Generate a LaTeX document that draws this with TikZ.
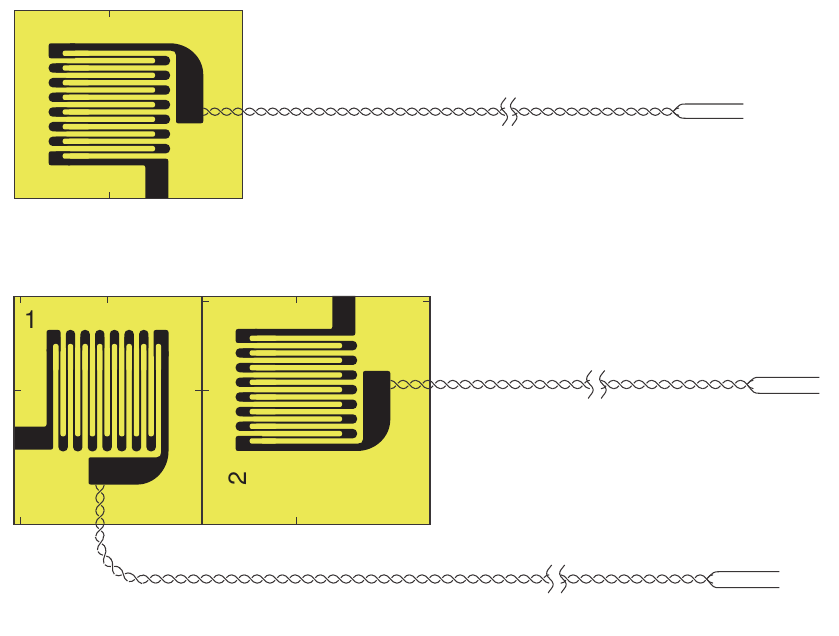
\documentclass[tikz,border=0pt]{standalone}
\usepackage{fontspec}
\setmainfont{TeX Gyre Heros}
\definecolor{foilyellow}{HTML}{EBE854}
\definecolor{foilblack}{HTML}{231F20}
\tikzset{
	carrier/.style={draw=foilblack!90, line width=1.2pt},
	foil/.style={fill=foilblack},
	slot/.style={fill=foilyellow, rounded corners=2pt},
	tick/.style={draw=foilblack!90, line width=1pt},
	strand/.style={draw=foilblack!90, line width=1.05pt},
	numeral/.style={font=\fontsize{25}{25}\selectfont, text=foilblack, inner sep=0pt},
	pics/twistcell/.style={code={
		\draw[strand] (-6.35,-4.2) .. controls (-1,-4.2) and (1,4.2) .. (6.35,4.2);
		\draw[strand] (-6.35,4.2) .. controls (-3.8,4.2) and (-2.5,2.9) .. (-1.1,1.25);
		\draw[strand] (1.1,-1.25) .. controls (2.5,-2.9) and (3.8,-4.2) .. (6.35,-4.2);
	}}
}
% Foil grid, long fingers horizontal
\newcommand{\foilgrid}{
	% Hairpins at the right end
	\foreach \y in {60.67,75.33,90,104.67,119.33,134,148.67} {
		\fill[foil, rounded corners=4pt] (55,\y-4.67) rectangle (170,\y+4.67);
		\fill[slot] (40,\y-2.67) rectangle (155,\y+2.67);
	}
	% Hairpins at the left end
	\foreach \y in {68,82.67,97.33,112,126.67,141.33} {
		\fill[foil, rounded corners=4pt] (48.7,\y-4.67) rectangle (70,\y+4.67);
		\fill[slot] (62.7,\y-2.67) rectangle (90,\y+2.67);
	}
	% Upper tab and curved lead
	\fill[foil] (75,43.3) -- (51,43.3) .. controls (49.5,43.3) and (48.7,44.1) .. (48.7,45.6) -- (48.7,56) .. controls (48.7,57.5) and (49.5,58.3) .. (51,58.3) -- (75,58.3) -- cycle;
	\fill[foil] (70,43.3) -- (170,43.3) .. controls (188,43.3) and (203.3,57) .. (203.3,75) -- (203.3,121) .. controls (203.3,122.5) and (202.5,123.3) .. (201,123.3) -- (178,123.3) .. controls (176.7,123.3) and (176,122.5) .. (176,121) -- (176,55) .. controls (176,52) and (174,50.7) .. (171,50.7) -- (70,50.7) -- cycle;
	\fill[slot] (62.7,50.7) rectangle (90,56);
	% Lower tab and straight lead
	\fill[foil] (70,151.3) -- (51,151.3) .. controls (49.5,151.3) and (48.7,152.1) .. (48.7,153.6) -- (48.7,163) .. controls (48.7,164.5) and (49.5,165.3) .. (51,165.3) -- (70,165.3) -- cycle;
	\fill[foil] (68,158.7) -- (166,158.7) .. controls (167.5,158.7) and (168.3,159.5) .. (168.3,161) -- (168.3,198.5) -- (145.3,198.5) -- (145.3,167.3) .. controls (145.3,166) and (144.6,165.3) .. (143.3,165.3) -- (68,165.3) -- cycle;
	\fill[slot] (62.7,153.3) rectangle (90,158.7);
}
\begin{document}
\begin{tikzpicture}[x=1pt,y=-1pt]
	\useasboundingbox (0,0) rectangle (839,636);
	% Carriers
	\fill[foilyellow] (14.5,10.2) rectangle (242.8,198.7);
	\fill[foilyellow] (14,296.5) rectangle (430,524.3);
	% Grids
	\foilgrid
	\begin{scope}[shift={(211.8,281.3)}, rotate=-90]
		\foilgrid
	\end{scope}
	\begin{scope}[shift={(187,494.3)}, yscale=-1]
		\foilgrid
	\end{scope}
	% Outlines
	\draw[carrier] (14.5,10.2) rectangle (242.8,198.7);
	\draw[carrier] (14,296.5) rectangle (202,524.3);
	\draw[carrier] (202,296.5) rectangle (430,524.3);
	% Ticks
	\foreach \x/\y in {109.3/10.2,20/296.5,107.7/296.5,296.7/296.5}
	\draw[tick, shift={(\x,\y)}] (0,0) -- (0,7);
	\foreach \x/\y in {109.3/198.7,20/524.3,296.7/524.3}
	\draw[tick, shift={(\x,\y)}] (0,0) -- (0,-7);
	\foreach \x/\y in {14/391,202/301.7,202/391}
	\draw[tick, shift={(\x,\y)}] (0,0) -- (7,0);
	\foreach \x/\y in {202/391,430/301.7}
	\draw[tick, shift={(\x,\y)}] (0,0) -- (-7,0);
	% Numbers
	\node[numeral] (numone) at (30.7,320) {1};
	\node[numeral, rotate=90] (numtwo) at (237.3,478.3) {2};
	% Wire ends
	\coordinate (topfork) at (673,111.7);
	\coordinate (topupper) at (743.3,104);
	\coordinate (toplower) at (743.3,118.3);
	\coordinate (rightfork) at (747,384.5);
	\coordinate (rightupper) at (819.3,377.3);
	\coordinate (rightlower) at (819.3,393.3);
	\coordinate (lowfork) at (706.7,579);
	\coordinate (lowupper) at (779.3,571.7);
	\coordinate (lowlower) at (779.3,587.7);
	% Twisted pair of the top gauge
	\foreach \k in {0,...,25}
	\pic[xscale=.92, yscale=.88] at ({203.3+5.8+11.6*\k},111.7) {twistcell};
	\foreach \k in {0,...,13}
	\pic[xscale=.94, yscale=.88] at ({673-11.9*\k},111.7) {twistcell};
	% Twisted pair of the right gauge
	\foreach \k in {0,...,15}
	\pic[xscale=.98] at ({390.7+6.2+12.44*\k},384.5) {twistcell};
	\foreach \k in {0,...,11}
	\pic at ({747-12.7*\k},384.5) {twistcell};
	% Twisted pair of the left gauge
	\foreach \k in {0,...,3}
	\pic[rotate=-90] at (100,{485+6.4+12.8*\k}) {twistcell};
	\foreach \k in {0,...,4}
	\pic[rotate={-81+18*\k}, xscale=1.05] at ({142.8-42.8*cos(9+18*\k)},{536.2+42.8*sin(9+18*\k)}) {twistcell};
	\foreach \k in {0,...,31}
	\pic at ({142.8+6.35+12.7*\k},579) {twistcell};
	\foreach \k in {0,...,11}
	\pic at ({706.7-12.7*\k},579) {twistcell};
	% Free ends
	\foreach \a/\b/\c in {topfork/topupper/toplower,rightfork/rightupper/rightlower,lowfork/lowupper/lowlower} {
		\draw[strand] (\a) .. controls ([xshift=7pt]\a |- \b) .. ([xshift=13pt]\a |- \b) -- (\b);
		\draw[strand] (\a) .. controls ([xshift=7pt]\a |- \c) .. ([xshift=13pt]\a |- \c) -- (\c);
	}
	% Breaks
	\foreach \x/\y/\d in {506/111.7/9.5,551.7/579/13,591.7/384.5/13} {
		\draw[strand, shift={(\x,\y)}] (0,-14) .. controls (-3,-10) and (-5.5,-8) .. (-5,-5) .. controls (-4.5,-1) and (1,1) .. (1.5,5) .. controls (2,8) and (-2,11) .. (-3.5,14);
		\draw[strand, shift={(\x+\d,\y)}] (0,-14) .. controls (-3,-10) and (-5.5,-8) .. (-5,-5) .. controls (-4.5,-1) and (1,1) .. (1.5,5) .. controls (2,8) and (-2,11) .. (-3.5,14);
	}
\end{tikzpicture}
\end{document}
